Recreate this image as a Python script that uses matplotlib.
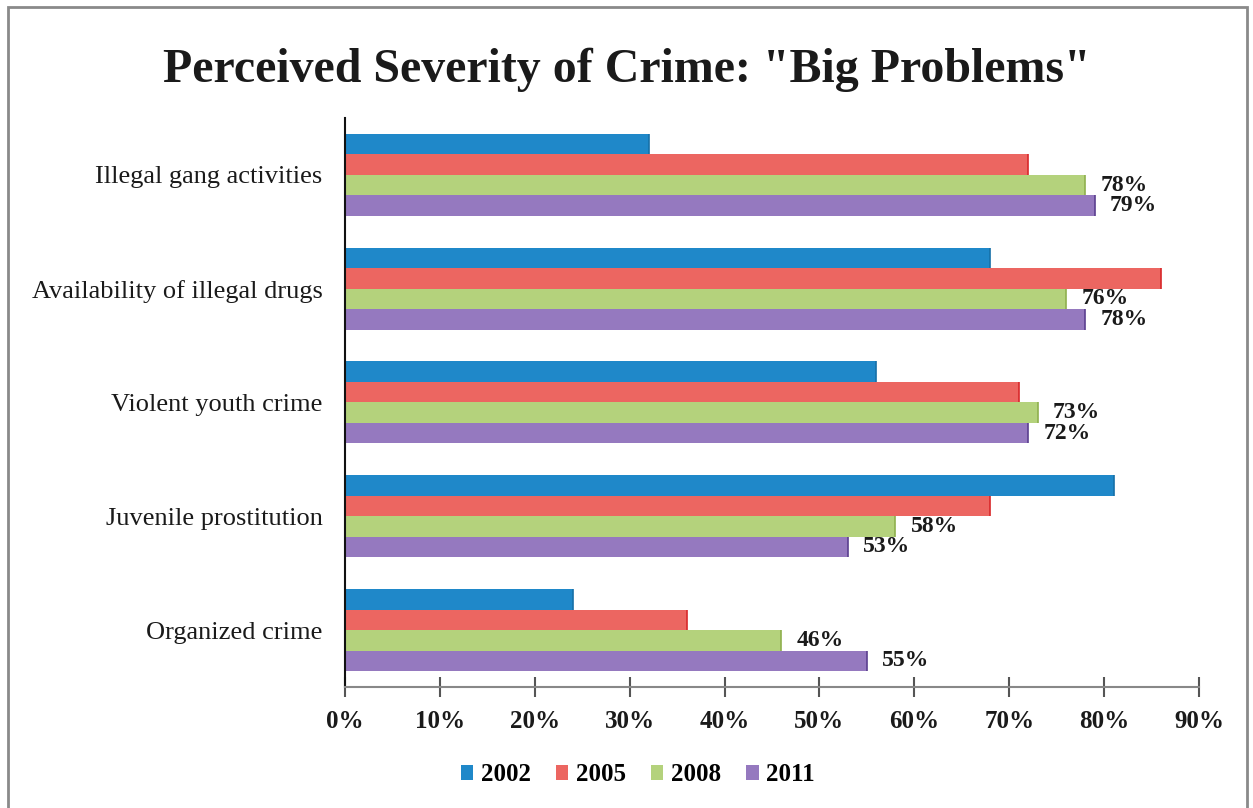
import numpy as np
import matplotlib
matplotlib.use("Agg")
import matplotlib.pyplot as plt
from matplotlib.patches import Rectangle

# data (percent)
categories = ["Illegal gang activities", "Availability of illegal drugs",
              "Violent youth crime", "Juvenile prostitution", "Organized crime"]
years = ["2002", "2005", "2008", "2011"]
v2002 = [32, 68, 56, 81, 24]
v2005 = [72, 86, 71, 68, 36]
v2008 = [78, 76, 73, 58, 46]
v2011 = [79, 78, 72, 53, 55]
labelled_years = ["2008", "2011"]
x_ticks = [0, 10, 20, 30, 40, 50, 60, 70, 80, 90]

colors = ["#1f88c9", "#ec6661", "#b4d27c", "#9579bf"]
edges = ["#1670a8", "#d8282a", "#8fb04e", "#5b3f8f"]

plt.rcParams["font.family"] = ["Liberation Serif", "DejaVu Serif"]

fig = plt.figure(figsize=(12.53, 8.08), dpi=100)
ax = fig.add_axes([0.2753, 0.1498, 0.6816, 0.7042])

# grey frame round the whole chart
fig.patches.append(Rectangle((8 / 1253, -0.02), 1239 / 1253, 1.02 - 7 / 808,
                             transform=fig.transFigure, fill=False,
                             edgecolor="#8a8a8a", linewidth=2))

series = [v2002, v2005, v2008, v2011]
ypos = np.arange(len(categories))
h = 0.18
for j, (yr, vals) in enumerate(zip(years, series)):
    bars = ax.barh(ypos + (j - 1.5) * h, vals, height=h, color=colors[j],
                   edgecolor="none", label=yr)
    # darker line at the bar ends
    for b in bars:
        ax.plot([b.get_width()] * 2, [b.get_y(), b.get_y() + h],
                color=edges[j], lw=1.2, solid_capstyle="butt")
    if yr in labelled_years:
        ax.bar_label(bars, labels=[f"{v}%" for v in vals], padding=11,
                     fontsize=17, fontweight="bold", color="#1a1a1a")

ax.set_ylim(len(categories) - 0.5, -0.5)
ax.set_xlim(0, 90)
ax.set_yticks(ypos)
ax.set_yticklabels(categories, fontsize=19, color="#1a1a1a")
ax.tick_params(axis="y", length=0, pad=16)
ax.set_xticks(x_ticks)
ax.set_xticklabels([f"{t}%" for t in x_ticks], fontsize=18, fontweight="bold",
                   color="#1a1a1a")
ax.tick_params(axis="x", direction="inout", length=15, width=1.5,
               color="#555555", pad=9)

for s in ["top", "right"]:
    ax.spines[s].set_visible(False)
ax.spines["left"].set_color("#111111")
ax.spines["left"].set_linewidth(1.5)
ax.spines["bottom"].set_color("#888888")
ax.spines["bottom"].set_linewidth(1.5)

fig.text(0.5, 0.913, 'Perceived Severity of Crime: "Big Problems"',
         ha="center", va="center", fontsize=34.5, fontweight="bold",
         color="#1a1a1a")

leg = fig.legend(loc="center", bbox_to_anchor=(0.509, 0.041), ncol=4,
                 frameon=False, prop={"size": 18, "weight": "bold"},
                 handlelength=0.5, handleheight=0.5, handletextpad=0.3,
                 columnspacing=1.0)

fig.savefig("out.png", dpi=100)
